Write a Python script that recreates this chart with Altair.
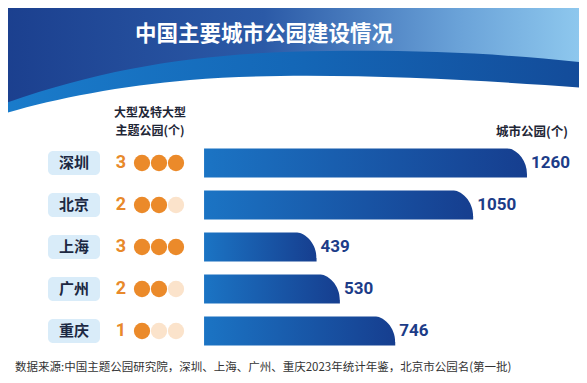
import altair as alt
import pandas as pd

# ---- data ----
cities = ["深圳", "北京", "上海", "广州", "重庆"]
theme_parks = [3, 2, 3, 2, 1]          # 大型及特大型主题公园(个)
city_parks = [1260, 1050, 439, 530, 746]  # 城市公园(个)
dot_slots = [0, 1, 2]

title_text = "中国主要城市公园建设情况"
left_header = ["大型及特大型", "主题公园(个)"]
right_header = "城市公园(个)"
source_text = "数据来源:中国主题公园研究院，深圳、上海、广州、重庆2023年统计年鉴，北京市公园名(第一批)"

df = pd.DataFrame({"city": cities, "theme": theme_parks, "parks": city_parks})
dots = pd.DataFrame(
    [{"city": c, "k": k, "on": "on" if k < n else "off"}
     for c, n in zip(cities, theme_parks) for k in dot_slots]
)
one = pd.DataFrame({"a": [0]})

W, H = 571, 367
FONT = "Noto Sans CJK SC"
NUMFONT = "Roboto"

yenc = alt.Y("city:N", sort=cities,
             scale=alt.Scale(domain=cities, range=[134, 344], paddingInner=0, paddingOuter=0),
             axis=None)
xs = alt.Scale(domain=[-765, 1463], nice=False, zero=True)


def lg(stops):
    return alt.LinearGradient(
        gradient="linear",
        stops=[alt.GradientStop(color=c, offset=o) for o, c in stops],
        x1=0, x2=1, y1=0, y2=0,
    )


# ---- header banner (decoration) ----
band_path = ("M -8 -8 L 579 -8 L 579 80 C 470 72 300 62 182 72 "
             "C 110 78 40 92 -8 107 Z")
top_path = ("M -8 -8 L 579 -8 L 579 55 C 500 46 420 42 320 43 "
            "C 200 44 100 58 -8 97 Z")

band = alt.Chart(one).mark_point(
    shape=band_path, size=4, filled=True, opacity=1, strokeWidth=0,
    fill=lg([(0, "#1a7ccb"), (0.5, "#1467b7"), (1, "#134b99")]),
).encode(x=alt.value(0), y=alt.value(0))

top = alt.Chart(one).mark_point(
    shape=top_path, size=4, filled=True, opacity=1, strokeWidth=0,
    fill=lg([(0, "#1b3f8e"), (0.45, "#2b5aa7"), (0.78, "#6aa2d8"), (1, "#90caef")]),
).encode(x=alt.value(0), y=alt.value(0))

title = alt.Chart(one).mark_text(
    text=title_text, font=FONT, fontSize=21.5, fontWeight="bold", color="white",
    align="center", baseline="middle",
).encode(x=alt.value(256), y=alt.value(27))

lhead1 = alt.Chart(one).mark_text(
    text=left_header[0], font=FONT, fontSize=12, fontWeight="bold", color="#1e2636",
    align="center", baseline="middle",
).encode(x=alt.value(142), y=alt.value(105))

lhead2 = alt.Chart(one).mark_text(
    text=left_header[1], font=FONT, fontSize=12, fontWeight="bold", color="#1e2636",
    align="center", baseline="middle",
).encode(x=alt.value(142), y=alt.value(123))

rhead = alt.Chart(one).mark_text(
    text=right_header, font=FONT, fontSize=12.5, fontWeight="bold", color="#1e2636",
    align="right", baseline="middle",
).encode(x=alt.value(560), y=alt.value(124))

# ---- rows ----
boxes = alt.Chart(df).mark_bar(size=24, cornerRadius=5, color="#d9ecf9").encode(
    x=alt.value(40), x2=alt.value(92), y=yenc)

city_txt = alt.Chart(df).mark_text(
    font=FONT, fontSize=15, fontWeight="bold", color="#1c2842",
    align="center", baseline="middle",
).encode(x=alt.value(66), y=yenc, text="city:N")

count_txt = alt.Chart(df).mark_text(
    font=NUMFONT, fontSize=18, fontWeight="bold", color="#e8892b",
    align="center", baseline="middle",
).encode(x=alt.value(113), y=yenc, text="theme:Q")

dot_layer = alt.Chart(dots).mark_circle(size=265, opacity=1).encode(
    x=alt.X("k:O", scale=alt.Scale(domain=dot_slots, range=[134, 168], padding=0), axis=None),
    y=yenc,
    color=alt.Color("on:N", scale=alt.Scale(domain=["on", "off"], range=["#eb8a2a", "#fbe3cb"]),
                    legend=None),
)

bars = alt.Chart(df).mark_bar(
    size=29,
    color=lg([(0, "#1b74c4"), (1, "#163e8f")]),
).encode(x=alt.X("parks:Q", scale=xs, axis=None), y=yenc)

# white mask that rounds the top-right end of each bar into a large curve
corner_path = ("M -24 -15.5 C -10.75 -15.5 0 -3.1 0 11 L 0 11 L 1.5 11 "
               "L 1.5 -16 L -24 -16 Z")
corners = alt.Chart(df).mark_point(
    shape=corner_path, size=4, filled=True, opacity=1, strokeWidth=0, fill="white",
).encode(x=alt.X("parks:Q", scale=xs, axis=None), y=yenc)

values = alt.Chart(df).mark_text(
    font=NUMFONT, fontSize=17, fontWeight="bold", color="#1c3c88",
    align="left", baseline="middle", dx=4,
).encode(x=alt.X("parks:Q", scale=xs, axis=None), y=yenc, text="parks:Q")

footer = alt.Chart(one).mark_text(
    text=source_text, font=FONT, fontSize=11.5, color="#333333",
    align="left", baseline="middle",
).encode(x=alt.value(7), y=alt.value(360))

chart = alt.layer(
    band, top, title, lhead1, lhead2, rhead, boxes, city_txt, count_txt, dot_layer,
    bars, corners, values, footer
).resolve_scale(x="independent").properties(
    width=W, height=H, padding=0, autosize=alt.AutoSizeParams(type="none"),
    background="white",
).configure_view(stroke=None)

chart.save("out.html", embed_options={"renderer": "svg", "actions": False})
